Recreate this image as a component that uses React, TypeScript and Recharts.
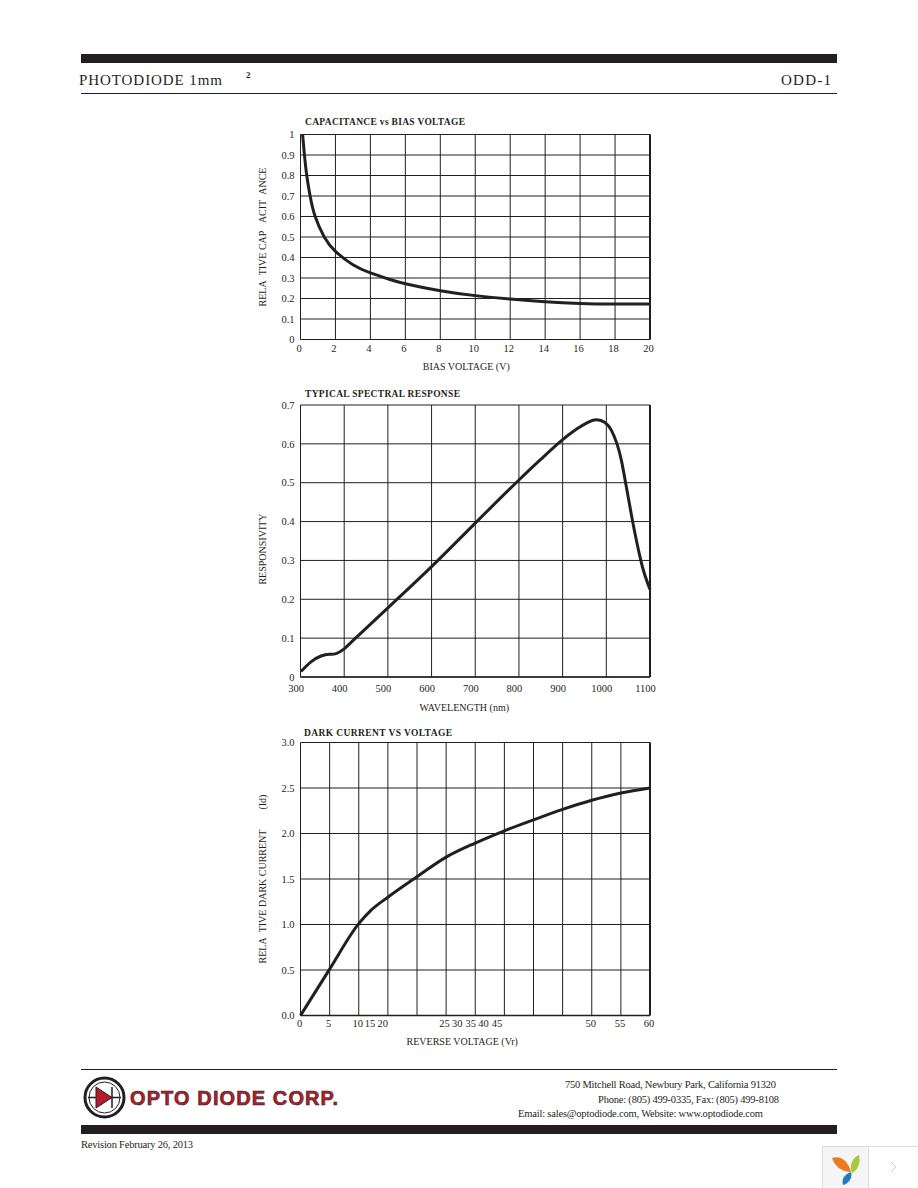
import { CartesianGrid, Line, LineChart, ReferenceLine, XAxis, YAxis } from "recharts";

// capacitance vs bias voltage
const capVolts = [0.12, 0.22, 0.35, 0.54, 0.83, 1.36, 2, 3, 4, 5, 6, 8, 10, 12, 14, 16, 18, 20];
const capValues = [1, 0.905, 0.805, 0.705, 0.602, 0.5, 0.43, 0.365, 0.325, 0.296, 0.272, 0.238, 0.214, 0.197, 0.184, 0.176, 0.173, 0.173];
const capXTicks = [0, 2, 4, 6, 8, 10, 12, 14, 16, 18, 20];
const capYTicks = [0, 0.1, 0.2, 0.3, 0.4, 0.5, 0.6, 0.7, 0.8, 0.9, 1];

// spectral response
const specNm = [301, 324, 347, 366, 381, 400, 423, 500, 600, 700, 800, 850, 894, 932, 959, 978, 997, 1012, 1025, 1035, 1044, 1053, 1062, 1073, 1085, 1100];
const specValues = [0.014, 0.039, 0.054, 0.0585, 0.06, 0.0725, 0.097, 0.178, 0.284, 0.396, 0.507, 0.56, 0.605, 0.638, 0.656, 0.662, 0.655, 0.634, 0.598, 0.555, 0.501, 0.445, 0.39, 0.33, 0.274, 0.225];
const specXTicks = [300, 400, 500, 600, 700, 800, 900, 1000, 1100];
const specYTicks = [0, 0.1, 0.2, 0.3, 0.4, 0.5, 0.6, 0.7];

// dark current
const darkVolts = [0, 5, 10, 12, 15, 20, 25, 30, 35, 40, 45, 50, 55, 60];
const darkValues = [0, 0.51, 1.01, 1.15, 1.3, 1.525, 1.74, 1.895, 2.03, 2.15, 2.265, 2.365, 2.445, 2.5];
const darkGridX = [0, 5, 10, 15, 20, 25, 30, 35, 40, 45, 50, 55, 60];
// the printed labels do not sit on their gridlines in the datasheet
const darkLabelAt = [0, 5, 10, 12.1, 14.3, 24.9, 27.1, 29.4, 31.6, 33.9, 50, 55, 60];
const darkLabels = ["0", "5", "10", "15", "20", "25", "30", "35", "40", "45", "50", "55", "60"];
const darkYTicks = [0, 0.5, 1, 1.5, 2, 2.5, 3];

const INK = "#231f20";
const SERIF = "'Liberation Serif', serif";
const tickStyle = { fill: INK, fontFamily: SERIF, fontSize: 10.5 };
const labelStyle = { fill: INK, fontFamily: SERIF, fontSize: 10 };
const zip = (xs: number[], ys: number[]) => xs.map((x, i) => ({ x, y: ys[i] }));
const plain = (v: number) => String(v);

function CapChart() {
  return (
    <LineChart width={430} height={280} data={zip(capVolts, capValues)} margin={{ top: 29.5, right: 20, bottom: 10.5, left: 0 }}>
      <CartesianGrid stroke={INK} strokeWidth={1} />
      <XAxis
        dataKey="x"
        type="number"
        domain={[0, 20]}
        ticks={capXTicks}
        interval={0}
        height={35}
        tickSize={0}
        tickMargin={5}
        dx={-1.5}
        tick={tickStyle}
        stroke={INK}
        label={{ value: "BIAS VOLTAGE (V)", position: "insideBottom", offset: 5, dx: -9, style: labelStyle }}
      />
      <YAxis
        dataKey="y"
        type="number"
        domain={[0, 1]}
        ticks={capYTicks}
        interval={0}
        width={60.5}
        tickSize={0}
        tickMargin={6}
        tick={tickStyle}
        axisLine={false}
        tickFormatter={plain}
        label={{ value: "RELA\u00a0\u00a0TIVE CAP\u00a0\u00a0\u00a0ACIT\u00a0\u00a0ANCE", angle: -90, position: "insideLeft", dx: 17, style: { ...labelStyle, textAnchor: "middle" } }}
      />
      <ReferenceLine x={20} stroke={INK} strokeWidth={2} />
      <Line dataKey="y" type="natural" dot={false} stroke={INK} strokeWidth={3} isAnimationActive={false} />
    </LineChart>
  );
}

function SpecChart() {
  return (
    <LineChart width={430} height={340} data={zip(specNm, specValues)} margin={{ top: 25, right: 20, bottom: 8, left: 0 }}>
      <CartesianGrid stroke={INK} strokeWidth={1} />
      <XAxis
        dataKey="x"
        type="number"
        domain={[300, 1100]}
        ticks={specXTicks}
        interval={0}
        height={35}
        tickSize={0}
        tickMargin={8}
        dx={-4.5}
        tick={tickStyle}
        stroke={INK}
        strokeWidth={1.5}
        label={{ value: "WAVELENGTH (nm)", position: "insideBottom", offset: 1, dx: -11, style: labelStyle }}
      />
      <YAxis
        dataKey="y"
        type="number"
        domain={[0, 0.7]}
        ticks={specYTicks}
        interval={0}
        width={60.5}
        tickSize={0}
        tickMargin={6}
        tick={tickStyle}
        axisLine={false}
        tickFormatter={plain}
        label={{ value: "RESPONSIVITY", angle: -90, position: "insideLeft", dx: 17, dy: 8, style: { ...labelStyle, textAnchor: "middle" } }}
      />
      <ReferenceLine x={1100} stroke={INK} strokeWidth={2} />
      <Line dataKey="y" type="natural" dot={false} stroke={INK} strokeWidth={3} isAnimationActive={false} />
    </LineChart>
  );
}

function DarkChart() {
  return (
    <LineChart width={430} height={340} data={zip(darkVolts, darkValues)} margin={{ top: 22.5, right: 20, bottom: 9.5, left: 0 }}>
      <CartesianGrid stroke={INK} strokeWidth={1} vertical={false} />
      <XAxis
        dataKey="x"
        type="number"
        domain={[0, 60]}
        ticks={darkLabelAt}
        interval={0}
        height={35}
        tickSize={0}
        tickMargin={4}
        dx={-1}
        tick={tickStyle}
        stroke={INK}
        strokeWidth={1.5}
        tickFormatter={(_v: number, i: number) => darkLabels[i]}
        label={{ value: "REVERSE VOLTAGE (Vr)", position: "insideBottom", offset: 6, dx: -13, style: labelStyle }}
      />
      <YAxis
        dataKey="y"
        type="number"
        domain={[0, 3]}
        ticks={darkYTicks}
        interval={0}
        width={60.5}
        tickSize={0}
        tickMargin={6}
        tick={tickStyle}
        axisLine={false}
        tickFormatter={(v: number) => v.toFixed(1)}
        label={{ value: "RELA\u00a0\u00a0TIVE DARK CURRENT\u00a0\u00a0\u00a0\u00a0\u00a0\u00a0\u00a0\u00a0(Id)", angle: -90, position: "insideLeft", dx: 17, style: { ...labelStyle, textAnchor: "middle" } }}
      />
      {darkGridX.map((v) => (
        <ReferenceLine key={v} x={v} stroke={INK} strokeWidth={v === 60 ? 2 : 1} />
      ))}
      <Line dataKey="y" type="monotone" dot={false} stroke={INK} strokeWidth={3} isAnimationActive={false} />
    </LineChart>
  );
}

function T({ x, y, w, size = 10.5, bold, children }: { x: number; y: number; w?: number; size?: number; bold?: boolean; children: string }) {
  return (
    <text x={x} y={y} fontFamily={SERIF} fontSize={size} fontWeight={bold ? 700 : 400} fill={INK} textLength={w} lengthAdjust="spacing">
      {children}
    </text>
  );
}

function PageFurniture() {
  return (
    <svg width={918} height={1188} style={{ position: "absolute", left: 0, top: 0 }}>
      <rect x={81} y={54} width={756} height={9} fill={INK} />
      <T x={79} y={85} w={143} size={15}>PHOTODIODE 1mm</T>
      <T x={246} y={78} size={9} bold>2</T>
      <T x={781} y={85} w={50} size={15}>ODD-1</T>
      <rect x={81} y={93} width={756} height={1} fill={INK} />

      <T x={305} y={125} w={160} size={9.5} bold>CAPACITANCE vs BIAS VOLTAGE</T>
      <T x={305} y={397} w={155} size={9.5} bold>TYPICAL SPECTRAL RESPONSE</T>
      <T x={304} y={736} w={148} size={9.5} bold>DARK CURRENT VS VOLTAGE</T>

      <rect x={81} y={1069} width={756} height={1} fill={INK} />
      <circle cx={104.5} cy={1097.5} r={19.5} fill="none" stroke={INK} strokeWidth={3} />
      <circle cx={104.5} cy={1097.5} r={15.5} fill="none" stroke={INK} strokeWidth={1} />
      <path d="M88 1097.5H96M112 1097.5H121M112 1087V1108" stroke={INK} strokeWidth={1.5} fill="none" />
      <path d="M96 1087L112 1097.5L96 1108Z" fill="#b71c2a" stroke={INK} strokeWidth={1} />
      <text x={130} y={1104.5} fontFamily="'Liberation Sans', sans-serif" fontWeight={700} fontSize={20} fill="#b71c2a" stroke={INK} strokeWidth={0.6} textLength={208} lengthAdjust="spacing">
        OPTO DIODE CORP.
      </text>
      <T x={565} y={1088} w={211}>750 Mitchell Road, Newbury Park, California 91320</T>
      <T x={598} y={1103} w={181}>Phone: (805) 499-0335, Fax: (805) 499-8108</T>
      <T x={518} y={1117} w={245}>Email: sales@optodiode.com, Website: www.optodiode.com</T>
      <rect x={81} y={1125} width={756} height={9} fill={INK} />
      <T x={81} y={1148} w={112}>Revision February 26, 2013</T>

      <rect x={822.5} y={1146.5} width={96} height={42} fill="#fff" stroke="#ddd" />
      <rect x={823} y={1147} width={45} height={41} fill="#f5f5f5" />
      <line x1={868.5} y1={1146} x2={868.5} y2={1188} stroke="#ddd" />
      <path d="M832 1158C840 1155 848 1160 851 1172C843 1172 835 1167 832 1158Z" fill="#ee7a1e" />
      <path d="M859 1155C861 1162 858 1170 852 1173C849 1166 852 1158 859 1155Z" fill="#a9c83c" />
      <path d="M851 1172C853 1178 848 1184 843 1185C841 1179 845 1174 851 1172Z" fill="#1f7cc4" />
      <path d="M891 1162L896 1167L891 1172" fill="none" stroke="#ccc" />
    </svg>
  );
}

export default function App() {
  return (
    <div style={{ position: "absolute", left: 0, top: 0, width: 918, height: 1188, background: "#fff", overflow: "hidden" }}>
      <PageFurniture />
      <div style={{ position: "absolute", left: 240, top: 105 }}><CapChart /></div>
      <div style={{ position: "absolute", left: 240, top: 380 }}><SpecChart /></div>
      <div style={{ position: "absolute", left: 240, top: 720 }}><DarkChart /></div>
    </div>
  );
}
